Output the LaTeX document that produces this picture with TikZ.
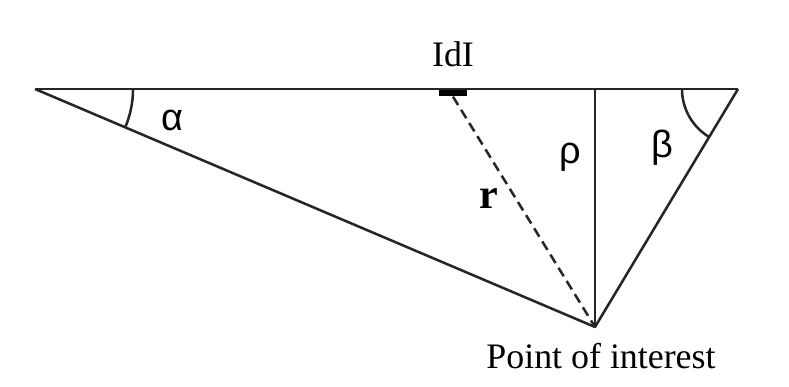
\documentclass[tikz,border=0pt]{standalone}
\usepackage{fontspec}
\setmainfont{Liberation Serif}
\newfontfamily\grkfont{Liberation Sans}
\usetikzlibrary{positioning, angles, calc}
\definecolor{mLine}{HTML}{262626}

\begin{document}
\begin{tikzpicture}[
  x=0.025cm, y=0.025cm,
  every node/.style={font=\fontsize{25.5}{30}\selectfont, inner sep=0pt},
  ln/.style={draw=mLine, line width=1.8pt},
  grk/.style={font=\grkfont\fontsize{27}{32}\selectfont},
  ang/.style={draw=mLine, line width=1.8pt},
]
  % Background
  \useasboundingbox (0,0) rectangle (789,387);

  % Triangle corners
  \coordinate (wl) at (35,298);
  \coordinate (wr) at (738,298);
  \coordinate (poi) at (595,60);
  \coordinate (ft) at (poi |- wl);

  % Current element
  \node[fill=black, minimum width=0.68cm, minimum height=0.17cm] (el) at (453,294) {};
  \node (eltxt) at (453,333) {IdI};

  % Sides
  \draw[ln] (wl) -- (wr);
  \draw[ln, line join=bevel] (wl) -- (poi) -- (wr);
  \draw[ln] (ft) -- (poi);
  \draw[ln, dash pattern=on 7pt off 4pt] (el.south) -- (poi);

  % Angles
  \pic[ang, angle radius=2.45cm] {angle=poi--wl--wr};
  \pic[ang, angle radius=1.4cm] {angle=wl--wr--poi};

  % Labels
  \node[grk] (alpha) at (172,267) {α};
  \node[grk] (rho) at (570,230) {ρ};
  \node[grk] (beta) at (662,239) {β};
  \node[font=\fontsize{30}{34}\selectfont\bfseries] (rr) at (489,188) {r};
  \node[below=0.4cm of poi, xshift=0.15cm] (poitxt) {Point of interest};
\end{tikzpicture}
\end{document}
